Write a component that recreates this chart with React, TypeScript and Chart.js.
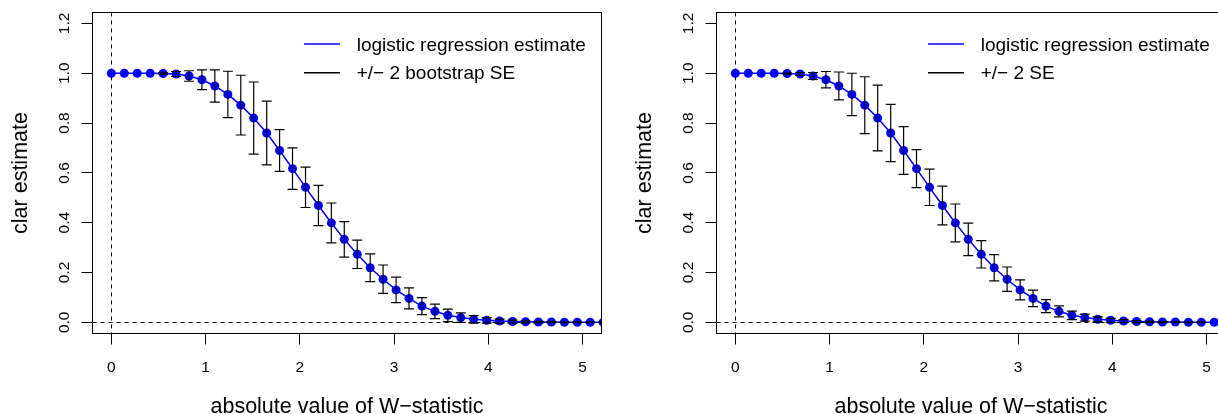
import React, { useEffect, useRef } from "react";
import { Chart, registerables } from "chart.js";

Chart.register(...registerables);

// |W| grid values
const xValues = [
  0.0, 0.137, 0.275, 0.412, 0.549, 0.687, 0.824, 0.961, 1.098, 1.236,
  1.373, 1.51, 1.648, 1.785, 1.922, 2.06, 2.197, 2.334, 2.471, 2.609,
  2.746, 2.883, 3.021, 3.158, 3.295, 3.433, 3.57, 3.707, 3.844, 3.982,
  4.119, 4.256, 4.394, 4.531, 4.668, 4.806, 4.943, 5.08, 5.217,
];

// logistic regression estimate of clar
const estimate = [
  1.0, 1.0, 1.0, 1.0, 0.999, 0.997, 0.989, 0.974, 0.949, 0.915,
  0.872, 0.82, 0.76, 0.69, 0.617, 0.542, 0.469, 0.399, 0.333, 0.273,
  0.219, 0.173, 0.13, 0.096, 0.065, 0.044, 0.028, 0.019, 0.012, 0.008,
  0.005, 0.003, 0.002, 0.001, 0.001, 0.0, 0.0, 0.0, 0.0,
];

// 2 x bootstrap SE (left panel)
const bootstrapTwoSE = [
  0, 0, 0, 0, 0.003, 0.01, 0.021, 0.04, 0.065, 0.093,
  0.12, 0.145, 0.128, 0.084, 0.083, 0.081, 0.081, 0.08, 0.071, 0.057,
  0.056, 0.057, 0.051, 0.042, 0.034, 0.029, 0.025, 0.019, 0.015, 0.011,
  0.008, 0.006, 0.004, 0.003, 0.002, 0.001, 0.001, 0.001, 0.001,
];

// 2 x SE (right panel)
const modelTwoSE = [
  0, 0, 0, 0, 0.002, 0.006, 0.014, 0.033, 0.056, 0.085,
  0.114, 0.132, 0.115, 0.096, 0.076, 0.073, 0.078, 0.076, 0.065, 0.055,
  0.053, 0.049, 0.04, 0.033, 0.026, 0.022, 0.017, 0.014, 0.01, 0.008,
  0.006, 0.004, 0.003, 0.002, 0.001, 0.001, 0.001, 0.0, 0.0,
];

const xTicks = [0, 1, 2, 3, 4, 5];
const xTickLabels = ["0", "1", "2", "3", "4", "5"];
const yTicks = [0, 0.2, 0.4, 0.6, 0.8, 1.0, 1.2];
const yTickLabels = ["0.0", "0.2", "0.4", "0.6", "0.8", "1.0", "1.2"];

const xTitle = "absolute value of W\u2212statistic";
const yTitle = "clar estimate";
const legendEstimate = "logistic regression estimate";
const legendLeftSE = "+/\u2212 2 bootstrap SE";
const legendRightSE = "+/\u2212 2 SE";

const FONT = '"Liberation Sans", Arial, Helvetica, sans-serif';
const BLUE = "#0000FF";

const snap = (v: number) => Math.round(v - 0.5) + 0.5;

function makePlugin(twoSE: number[], seLabel: string) {
  return {
    id: "rBaseDecor",
    beforeDatasetsDraw(chart: any) {
      const { ctx, chartArea: a, scales } = chart;
      const xs = scales.x;
      const ys = scales.y;
      ctx.save();
      ctx.beginPath();
      ctx.rect(a.left, a.top, a.right - a.left, a.bottom - a.top);
      ctx.clip();
      ctx.strokeStyle = "#000";
      ctx.lineWidth = 1;
      ctx.setLineDash([4, 4]);
      const x0 = snap(xs.getPixelForValue(0));
      ctx.beginPath();
      ctx.moveTo(x0, a.top);
      ctx.lineTo(x0, a.bottom);
      ctx.stroke();
      const y0 = snap(ys.getPixelForValue(0));
      ctx.beginPath();
      ctx.moveTo(a.left, y0);
      ctx.lineTo(a.right, y0);
      ctx.stroke();
      ctx.restore();
    },
    afterDatasetsDraw(chart: any) {
      const { ctx, chartArea: a, scales } = chart;
      const xs = scales.x;
      const ys = scales.y;

      // error bars
      ctx.save();
      ctx.beginPath();
      ctx.rect(a.left, a.top, a.right - a.left, a.bottom - a.top);
      ctx.clip();
      ctx.strokeStyle = "#000";
      ctx.lineWidth = 1.2;
      const cap = 5;
      for (let i = 0; i < xValues.length; i++) {
        const h = twoSE[i];
        if (!(h > 0)) continue;
        const px = xs.getPixelForValue(xValues[i]);
        const top = ys.getPixelForValue(estimate[i] + h);
        const bot = ys.getPixelForValue(estimate[i] - h);
        ctx.beginPath();
        ctx.moveTo(px, top);
        ctx.lineTo(px, bot);
        ctx.moveTo(px - cap, top);
        ctx.lineTo(px + cap, top);
        ctx.moveTo(px - cap, bot);
        ctx.lineTo(px + cap, bot);
        ctx.stroke();
      }
      ctx.restore();

      // box
      ctx.save();
      ctx.strokeStyle = "#000";
      ctx.lineWidth = 1;
      ctx.setLineDash([]);
      const L = snap(a.left);
      const R = snap(a.right);
      const T = snap(a.top);
      const B = snap(a.bottom);
      ctx.strokeRect(L, T, R - L, B - T);

      // x ticks
      ctx.fillStyle = "#000";
      ctx.font = `15.5px ${FONT}`;
      ctx.textAlign = "center";
      ctx.textBaseline = "alphabetic";
      xTicks.forEach((v, i) => {
        const px = snap(xs.getPixelForValue(v));
        ctx.beginPath();
        ctx.moveTo(px, B);
        ctx.lineTo(px, B + 11);
        ctx.stroke();
        ctx.fillText(xTickLabels[i], xs.getPixelForValue(v), 372);
      });

      // y ticks (rotated labels)
      yTicks.forEach((v, i) => {
        const py = snap(ys.getPixelForValue(v));
        ctx.beginPath();
        ctx.moveTo(L - 11, py);
        ctx.lineTo(L, py);
        ctx.stroke();
        ctx.save();
        ctx.translate(69.3, ys.getPixelForValue(v));
        ctx.rotate(-Math.PI / 2);
        ctx.fillText(yTickLabels[i], 0, 0);
        ctx.restore();
      });

      // axis titles
      ctx.font = `21.5px ${FONT}`;
      ctx.fillText(xTitle, (a.left + a.right) / 2, 413);
      ctx.save();
      ctx.translate(27, (a.top + a.bottom) / 2);
      ctx.rotate(-Math.PI / 2);
      ctx.fillText(yTitle, 0, 0);
      ctx.restore();

      // legend
      ctx.lineWidth = 1.5;
      ctx.strokeStyle = BLUE;
      ctx.beginPath();
      ctx.moveTo(304, 44);
      ctx.lineTo(340, 44);
      ctx.stroke();
      ctx.strokeStyle = "#000";
      ctx.beginPath();
      ctx.moveTo(304, 72.7);
      ctx.lineTo(340, 72.7);
      ctx.stroke();
      ctx.font = `19px ${FONT}`;
      ctx.textAlign = "left";
      ctx.fillText(legendEstimate, 356.7, 50.7);
      ctx.fillText(seLabel, 356.7, 79.3);
      ctx.restore();
    },
  };
}

function Panel({ twoSE, seLabel, left }: { twoSE: number[]; seLabel: string; left: number }) {
  const ref = useRef<HTMLCanvasElement | null>(null);
  useEffect(() => {
    if (!ref.current) return;
    const points = xValues.map((x, i) => ({ x, y: estimate[i] }));
    const chart = new Chart(ref.current, {
      type: "line",
      data: {
        datasets: [
          {
            data: points,
            borderColor: BLUE,
            backgroundColor: BLUE,
            borderWidth: 1.5,
            pointRadius: 4.5,
            pointBorderWidth: 0,
            pointBackgroundColor: BLUE,
            pointHoverRadius: 4.5,
            tension: 0,
            clip: 0,
          } as any,
        ],
      },
      options: {
        animation: false,
        responsive: false,
        events: [],
        layout: { padding: { left: 92.5, right: 22.5, top: 12.5, bottom: 80.5 } },
        plugins: { legend: { display: false }, tooltip: { enabled: false } },
        scales: {
          x: { type: "linear", min: -0.2, max: 5.2, display: false },
          y: { type: "linear", min: -0.045, max: 1.244, display: false },
        },
      },
      plugins: [makePlugin(twoSE, seLabel) as any],
    });
    return () => chart.destroy();
  }, []);
  return (
    <canvas
      ref={ref}
      width={624}
      height={414}
      style={{ position: "absolute", left, top: 0, width: 624, height: 414 }}
    />
  );
}

export default function App() {
  return (
    <div
      style={{
        position: "fixed",
        left: 0,
        top: 0,
        width: 1218,
        height: 414,
        overflow: "hidden",
        background: "#fff",
      }}
    >
      <Panel twoSE={bootstrapTwoSE} seLabel={legendLeftSE} left={0} />
      <Panel twoSE={modelTwoSE} seLabel={legendRightSE} left={624} />
    </div>
  );
}
